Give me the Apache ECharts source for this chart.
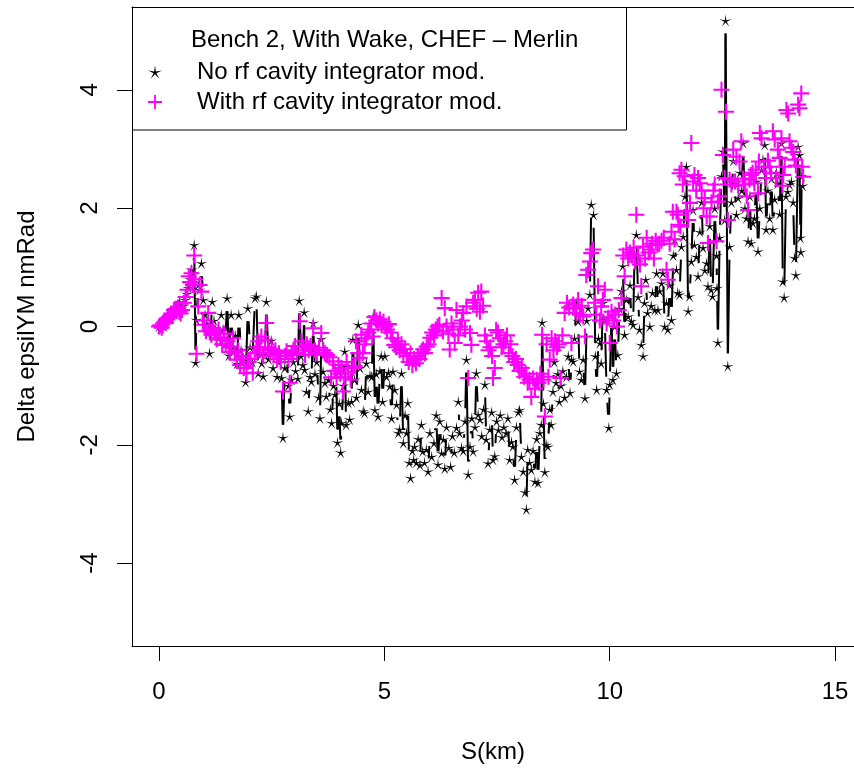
<!DOCTYPE html>
<html><head><meta charset="utf-8">
<script src="https://cdn.jsdelivr.net/npm/echarts@6/dist/echarts.min.js"></script>
<style>html,body{margin:0;padding:0;background:#fff;overflow:hidden}#c{width:854px;height:771px}</style>
</head><body><div id="c"></div>
<script>
// S (km), Delta epsilYM (nmRad) -- no rf cavity integrator mod. (black asterisks, type "b")
const blackPoints = [
[0.00,0.00],[0.04,-0.03],[0.08,0.02],[0.12,0.05],[0.16,0.08],[0.20,0.12],[0.24,0.15],[0.28,0.20],[0.32,0.24],[0.36,0.30],[0.40,0.33],[0.44,0.28],[0.46,0.41],[0.50,0.30],[0.54,0.35],[0.58,0.45],[0.62,0.55],[0.65,0.65],[0.69,0.80],[0.72,0.96],[0.76,0.90],[0.78,1.38],[0.81,-0.61],[0.83,0.11],[0.87,0.70],[0.90,0.62],[0.94,1.07],[0.98,0.45],
[1.02,0.20],[1.06,0.05],[1.09,-0.12],[1.12,-0.45],[1.18,0.42],[1.22,0.10],[1.27,-0.10],[1.32,-0.20],[1.38,0.20],[1.42,-0.05],[1.47,-0.30],[1.51,0.48],[1.55,-0.49],[1.60,0.20],[1.64,-0.35],[1.69,-0.15],[1.73,-0.63],[1.77,0.20],[1.82,-0.40],[1.86,-0.55],[1.92,-0.94],[1.97,0.31],
[2.02,-0.35],[2.07,-0.60],[2.13,0.48],[2.16,0.51],[2.20,-0.79],[2.24,-0.45],[2.28,-0.62],[2.31,-0.84],[2.35,-0.48],[2.38,0.42],[2.43,-0.55],[2.49,-0.24],[2.53,-0.70],[2.57,-0.42],[2.62,-0.85],[2.66,-0.60],[2.72,-0.87],[2.75,-1.88],[2.79,-0.70],[2.83,-0.42],[2.87,-1.00],[2.90,-1.52],[2.94,-0.90],[2.98,-0.60],
[3.03,-0.75],[3.08,-0.88],[3.11,0.44],[3.15,-0.50],[3.19,-0.65],[3.22,0.24],[3.23,-0.73],[3.27,-1.10],[3.31,-1.43],[3.35,-0.85],[3.38,-0.93],[3.42,0.06],[3.46,-0.80],[3.50,-0.60],[3.54,-1.20],[3.57,-1.55],[3.60,-0.21],[3.64,-0.76],[3.68,-0.95],[3.71,-1.18],[3.76,-0.90],[3.80,-1.40],[3.83,-1.63],[3.87,-1.00],[3.90,-1.15],[3.93,-0.80],[3.96,-1.96],
[4.00,-1.30],[4.03,-2.13],[4.05,-1.63],[4.09,-1.00],[4.12,-0.42],[4.15,-1.66],[4.20,-1.29],[4.23,-1.57],[4.27,-1.27],[4.30,-0.22],[4.34,-0.90],[4.38,-1.20],[4.42,0.03],[4.46,-0.70],[4.49,-1.07],[4.53,-1.43],[4.56,-1.46],[4.60,-0.62],[4.64,-1.10],[4.68,-0.83],[4.72,-0.85],[4.75,0.17],[4.79,-1.41],[4.82,-0.80],[4.86,-1.52],[4.90,-0.75],[4.93,-0.50],[4.96,-1.27],
[5.01,-0.50],[5.05,-0.85],[5.09,-0.78],[5.12,-1.01],[5.16,-1.55],[5.19,-0.76],[5.23,-1.07],[5.27,-1.32],[5.31,-1.80],[5.34,-1.74],[5.38,-0.79],[5.42,-1.97],[5.46,-1.50],[5.49,-1.80],[5.52,-1.29],[5.55,-2.30],[5.58,-2.56],[5.62,-2.10],[5.65,-2.25],[5.67,-2.03],[5.71,-2.30],[5.75,-1.90],[5.79,-2.34],[5.82,-1.66],[5.85,-2.11],[5.89,-2.30],[5.93,-2.08],[5.97,-2.45],
[6.01,-1.80],[6.05,-2.20],[6.10,-1.97],[6.15,-1.50],[6.19,-2.33],[6.23,-1.60],[6.27,-2.14],[6.31,-1.91],[6.34,-2.40],[6.38,-1.70],[6.43,-2.05],[6.47,-2.37],[6.51,-1.85],[6.55,-2.13],[6.60,-1.71],[6.64,-1.27],[6.67,-1.80],[6.71,-2.05],[6.75,-2.10],[6.79,-1.60],[6.82,-0.56],[6.86,-2.50],[6.90,-2.03],[6.94,-1.55],[6.97,-2.11],
[7.01,-1.70],[7.04,-0.79],[7.08,-1.49],[7.12,-1.57],[7.16,-1.85],[7.20,-1.40],[7.23,-0.98],[7.26,-1.91],[7.30,-2.31],[7.34,-1.74],[7.38,-1.45],[7.41,-2.25],[7.45,-2.19],[7.49,-1.60],[7.53,-1.75],[7.57,-1.50],[7.61,-1.87],[7.65,-1.70],[7.70,-1.80],[7.74,-1.55],[7.78,-2.25],[7.82,-1.95],[7.85,-2.03],[7.89,-2.59],[7.93,-1.70],[7.97,-1.45],
[8.00,-1.41],[8.04,-2.20],[8.08,-2.45],[8.12,-2.80],[8.15,-3.09],[8.18,-2.08],[8.22,-2.30],[8.26,-2.42],[8.30,-2.10],[8.34,-2.62],[8.38,-1.90],[8.41,-2.64],[8.45,-1.80],[8.48,-1.66],[8.50,0.07],[8.53,-1.30],[8.56,-2.46],[8.59,-2.00],[8.63,-2.03],[8.67,-1.40],[8.70,-1.66],[8.74,-1.10],[8.77,-0.60],[8.81,-0.95],[8.85,-0.80],[8.88,-1.27],[8.92,-1.00],[8.96,-0.75],
[9.00,-1.20],[9.04,-0.85],[9.08,-0.50],[9.12,-1.12],[9.15,-0.56],[9.19,-0.59],[9.22,-0.20],[9.26,0.40],[9.30,0.09],[9.33,-0.76],[9.37,-0.90],[9.41,-0.56],[9.45,-1.21],[9.49,0.10],[9.52,0.31],[9.56,0.54],[9.59,2.06],[9.64,1.89],[9.68,-0.50],[9.71,-1.07],[9.75,-0.20],[9.78,-0.28],[9.81,-0.62],[9.85,0.40],[9.89,0.11],[9.93,-1.07],[9.98,-1.71],
[10.00,-0.98],[10.04,0.20],[10.07,-0.90],[10.11,0.00],[10.15,-0.79],[10.18,-0.48],[10.22,0.30],[10.26,0.60],[10.29,1.02],[10.33,-0.14],[10.37,0.45],[10.41,0.17],[10.45,0.70],[10.48,0.09],[10.52,0.03],[10.55,1.20],[10.59,1.55],[10.63,0.50],[10.66,-0.05],[10.70,-0.31],[10.74,-0.50],[10.77,0.40],[10.80,0.79],[10.84,0.23],[10.89,0.00],[10.92,0.35],[10.95,0.57],
[11.00,0.28],[11.04,0.90],[11.07,0.28],[11.11,0.60],[11.15,0.73],[11.18,0.90],[11.22,0.00],[11.26,0.40],[11.29,-0.05],[11.33,0.70],[11.37,0.11],[11.41,1.20],[11.44,1.47],[11.48,0.96],[11.51,0.57],[11.55,0.54],[11.59,1.35],[11.63,1.52],[11.67,2.20],[11.70,2.70],[11.74,0.26],[11.77,0.51],[11.81,1.10],[11.85,1.97],[11.88,1.38],[11.92,1.18],[11.96,0.85],
[12.00,1.60],[12.04,2.10],[12.07,1.33],[12.11,0.95],[12.15,1.07],[12.18,0.68],[12.22,1.70],[12.25,0.62],[12.28,0.51],[12.33,2.00],[12.37,1.20],[12.38,0.65],[12.40,-0.27],[12.44,1.50],[12.48,2.54],[12.51,2.96],[12.55,1.80],[12.57,5.17],[12.62,-0.67],[12.66,1.35],[12.70,2.10],[12.74,2.80],[12.77,2.42],[12.81,1.89],[12.85,2.17],[12.89,2.60],[12.93,2.30],[12.96,3.10],
[13.00,2.00],[13.03,1.83],[13.07,1.44],[13.11,2.20],[13.14,1.41],[13.18,1.75],[13.21,1.83],[13.25,2.45],[13.29,1.27],[13.33,2.00],[13.37,2.65],[13.40,2.82],[13.44,3.07],[13.47,1.64],[13.51,2.30],[13.55,1.83],[13.59,2.50],[13.62,1.64],[13.66,2.15],[13.70,2.60],[13.73,2.42],[13.77,1.90],[13.81,3.10],[13.84,0.76],[13.87,0.49],[13.91,2.20],[13.95,2.28],[13.99,2.40],
[14.03,2.45],[14.07,2.10],[14.10,1.16],[14.13,0.87],[14.18,3.04],[14.21,2.90],[14.23,1.50],[14.24,1.26],[14.26,2.54],[14.28,2.38]
];
// S (km), Delta epsilYM (nmRad) -- with rf cavity integrator mod. (magenta plus)
const magentaPoints = [
[0.00,0.00],[0.03,0.02],[0.06,-0.02],[0.09,0.05],[0.12,0.08],[0.15,0.06],[0.18,0.12],[0.21,0.15],[0.24,0.18],[0.27,0.22],[0.30,0.20],[0.33,0.28],[0.36,0.30],[0.39,0.26],[0.42,0.32],[0.45,0.25],[0.48,0.22],[0.51,0.28],[0.55,0.40],[0.59,0.50],[0.63,0.62],[0.66,0.85],[0.69,0.75],[0.72,0.90],[0.75,0.70],[0.78,1.20],[0.80,0.80],[0.83,-0.46],[0.87,0.34],[0.90,0.70],[0.94,0.59],[0.97,0.10],
[1.00,0.03],[1.04,-0.08],[1.09,0.23],[1.12,-0.05],[1.16,-0.14],[1.20,-0.02],[1.24,-0.10],[1.28,-0.22],[1.32,-0.05],[1.36,-0.19],[1.40,-0.30],[1.44,-0.12],[1.48,-0.31],[1.52,-0.25],[1.56,-0.43],[1.60,-0.35],[1.64,-0.20],[1.68,-0.45],[1.72,-0.56],[1.76,-0.40],[1.80,-0.65],[1.84,-0.50],[1.88,-0.70],[1.94,-0.79],[1.98,-0.60],
[2.03,-0.55],[2.08,-0.78],[2.12,-0.45],[2.16,-0.35],[2.20,-0.25],[2.24,-0.40],[2.27,-0.17],[2.31,-0.50],[2.35,-0.22],[2.38,0.06],[2.42,-0.35],[2.46,-0.45],[2.50,-0.38],[2.54,-0.48],[2.58,-0.40],[2.62,-0.55],[2.66,-0.45],[2.70,-0.60],[2.75,-1.10],[2.79,-0.50],[2.83,-0.42],[2.87,-0.55],[2.90,-0.95],[2.94,-0.48],[2.98,-0.40],
[3.02,-0.33],[3.06,-0.45],[3.12,0.09],[3.16,-0.25],[3.20,-0.35],[3.24,-0.48],[3.28,-0.30],[3.32,-0.40],[3.36,-0.33],[3.42,-0.03],[3.46,-0.40],[3.50,-0.45],[3.55,-0.36],[3.60,-0.11],[3.64,-0.40],[3.68,-0.45],[3.73,-0.48],[3.78,-0.52],[3.82,-0.86],[3.86,-0.59],[3.90,-0.75],[3.94,-0.86],[3.98,-0.65],
[4.02,-0.80],[4.05,-0.70],[4.08,-1.10],[4.12,-0.86],[4.16,-0.60],[4.20,-0.76],[4.25,-0.90],[4.30,-0.70],[4.34,-0.67],[4.37,-0.25],[4.42,-0.45],[4.45,-0.53],[4.49,-0.14],[4.52,-0.45],[4.56,-0.30],[4.60,-0.20],[4.64,-0.10],[4.67,-0.05],[4.71,0.05],[4.74,-0.17],[4.78,0.16],[4.82,0.10],[4.86,0.05],[4.90,0.12],[4.94,0.02],[4.98,0.08],
[5.02,0.00],[5.06,-0.05],[5.10,0.04],[5.14,-0.10],[5.18,-0.20],[5.22,-0.31],[5.26,-0.35],[5.30,-0.25],[5.34,-0.40],[5.38,-0.30],[5.42,-0.45],[5.46,-0.38],[5.50,-0.50],[5.54,-0.60],[5.58,-0.45],[5.62,-0.65],[5.66,-0.55],[5.70,-0.62],[5.74,-0.50],[5.78,-0.55],[5.82,-0.45],[5.86,-0.39],[5.90,-0.45],[5.94,-0.34],[5.98,-0.30],
[6.02,-0.19],[6.06,-0.10],[6.10,-0.15],[6.14,-0.05],[6.18,0.00],[6.22,0.03],[6.27,0.48],[6.30,-0.08],[6.34,0.31],[6.38,0.00],[6.42,-0.12],[6.45,-0.39],[6.49,0.05],[6.53,-0.05],[6.56,-0.28],[6.60,0.28],[6.64,-0.15],[6.68,0.00],[6.72,0.10],[6.75,0.23],[6.79,-0.05],[6.82,0.34],[6.86,-0.87],[6.90,-0.11],[6.93,-0.31],[6.97,0.40],
[7.01,0.45],[7.05,0.30],[7.08,0.57],[7.12,0.25],[7.15,0.59],[7.19,0.35],[7.23,-0.15],[7.27,-0.25],[7.31,-0.40],[7.35,-0.35],[7.39,-0.50],[7.41,-0.87],[7.45,-0.70],[7.48,-0.06],[7.52,-0.10],[7.56,-0.20],[7.60,-0.35],[7.64,-0.30],[7.68,-0.25],[7.72,-0.15],[7.76,-0.45],[7.80,-0.30],[7.84,-0.50],[7.88,-0.60],[7.92,-0.55],[7.96,-0.65],
[8.00,-0.75],[8.05,-0.70],[8.10,-0.85],[8.14,-0.80],[8.18,-0.95],[8.22,-0.90],[8.26,-1.19],[8.30,-0.88],[8.34,-1.05],[8.38,-0.90],[8.42,-0.95],[8.46,-0.80],[8.50,-0.14],[8.53,-0.90],[8.56,-1.52],[8.60,-0.30],[8.64,-0.85],[8.67,-0.56],[8.71,-0.20],[8.75,-0.40],[8.79,-0.25],[8.83,-0.35],[8.87,-0.30],[8.91,-0.87],[8.95,-0.15],
[9.00,0.23],[9.05,0.40],[9.10,0.32],[9.15,-0.28],[9.19,0.37],[9.23,0.30],[9.26,0.23],[9.30,0.45],[9.34,0.20],[9.38,0.35],[9.41,0.17],[9.45,-0.17],[9.48,0.87],[9.52,0.96],[9.56,1.10],[9.59,1.24],[9.63,1.30],[9.67,0.40],[9.70,0.20],[9.74,0.68],[9.78,0.10],[9.81,0.34],[9.85,0.45],[9.89,0.62],[9.93,0.05],[9.97,0.15],
[10.00,-0.28],[10.04,0.25],[10.08,0.10],[10.12,0.20],[10.16,0.00],[10.20,0.28],[10.26,0.48],[10.30,1.20],[10.33,0.85],[10.37,1.30],[10.41,1.15],[10.45,1.25],[10.49,1.20],[10.53,1.33],[10.56,1.10],[10.59,1.89],[10.63,1.20],[10.67,1.05],[10.70,0.68],[10.74,1.35],[10.78,1.15],[10.82,1.50],[10.86,1.25],[10.90,1.30],[10.94,1.40],[10.98,1.15],
[11.02,1.45],[11.06,1.38],[11.10,1.40],[11.15,1.45],[11.20,1.50],[11.26,0.96],[11.29,0.79],[11.33,1.40],[11.37,1.60],[11.40,1.94],[11.44,1.47],[11.48,1.94],[11.51,1.89],[11.53,1.72],[11.55,2.59],[11.57,1.69],[11.59,2.65],[11.62,2.40],[11.66,2.54],[11.70,1.95],[11.74,1.80],[11.78,2.09],[11.81,3.10],[11.85,2.45],[11.88,2.56],[11.92,2.30],[11.96,2.51],
[12.00,2.42],[12.04,2.30],[12.08,2.00],[12.11,2.17],[12.15,1.86],[12.18,1.41],[12.22,1.86],[12.26,2.10],[12.30,2.30],[12.33,2.40],[12.37,1.44],[12.40,2.11],[12.44,2.20],[12.48,4.00],[12.51,2.90],[12.55,2.51],[12.58,3.63],[12.62,1.80],[12.66,2.48],[12.70,2.40],[12.74,2.99],[12.78,2.45],[12.81,2.87],[12.85,2.38],[12.88,2.79],[12.92,3.13],[12.96,2.50],
[13.00,2.40],[13.04,2.20],[13.07,1.97],[13.10,2.48],[13.13,2.56],[13.17,2.60],[13.21,2.42],[13.24,2.65],[13.29,2.25],[13.31,2.79],[13.33,3.27],[13.37,3.18],[13.42,2.70],[13.47,2.51],[13.51,2.80],[13.55,2.70],[13.58,2.59],[13.62,3.30],[13.66,3.16],[13.69,2.51],[13.73,2.99],[13.77,2.85],[13.81,3.18],[13.83,2.38],[13.85,2.56],[13.88,2.70],[13.92,3.66],[13.96,3.60],[13.99,3.13],
[14.03,3.02],[14.07,2.95],[14.10,2.82],[14.13,2.72],[14.18,3.75],[14.21,3.69],[14.25,3.94],[14.27,2.70],[14.29,2.53]
];
const xTicks = [0, 5, 10, 15];
const yTicks = [-4, -2, 0, 2, 4];
const legendTitle = 'Bench 2, With Wake, CHEF \u2013 Merlin';
const seriesNames = ['No rf cavity integrator mod.', 'With rf cavity integrator mod.'];

const FONT = '"Liberation Sans", Arial, Helvetica, sans-serif';
const STAR = 'path://M0,-1L0.118,-0.162L0.951,-0.309L0.19,0.062L0.588,0.809L0,0.2L-0.588,0.809L-0.19,0.062L-0.951,-0.309L-0.118,-0.162Z';
const PLUS = 'path://M-0.13,-1L0.13,-1L0.13,-0.13L1,-0.13L1,0.13L0.13,0.13L0.13,1L-0.13,1L-0.13,0.13L-1,0.13L-1,-0.13L-0.13,-0.13Z';
const GAP = 13; // R type="b": line segments stop short of the points
const X_MIN = -0.6, X_MAX = 15.42; // the plot box is cut by the right edge of the picture

const segments = [];
for (let i = 0; i < blackPoints.length - 1; i++) {
  segments.push([blackPoints[i][0], blackPoints[i][1], blackPoints[i + 1][0], blackPoints[i + 1][1]]);
}

const chart = echarts.init(document.getElementById('c'), null, {renderer: 'canvas'});
chart.setOption({
  animation: false,
  backgroundColor: '#fff',
  textStyle: {fontFamily: FONT},
  title: {
    text: legendTitle, left: 191, top: 28, padding: 0,
    textStyle: {fontSize: 24, fontWeight: 'normal', color: '#000', fontFamily: FONT, lineHeight: 24}
  },
  legend: {
    orient: 'vertical', left: 148, top: 60, padding: 0,
    itemWidth: 14, itemHeight: 14, itemGap: 6, selectedMode: false,
    data: [
      {name: seriesNames[0], icon: STAR, itemStyle: {color: '#000'}},
      {name: seriesNames[1], icon: PLUS, itemStyle: {color: '#ff00ff'}}
    ],
    textStyle: {fontSize: 24, color: '#000', fontFamily: FONT, lineHeight: 24, padding: [0, 0, 0, 30]}
  },
  graphic: [{
    type: 'rect', z: 10,
    shape: {x: 132.5, y: 7.5, width: 494, height: 122.5},
    style: {fill: 'rgba(0,0,0,0)', stroke: '#000', lineWidth: 1}
  }],
  grid: {left: 132, right: 0, top: 7, bottom: 125, show: false},
  xAxis: [{
    type: 'value', min: X_MIN, max: X_MAX, position: 'bottom',
    axisLine: {show: true, onZero: false, lineStyle: {color: '#000', width: 1}},
    axisTick: {show: true, customValues: xTicks, length: 15, lineStyle: {color: '#000', width: 1}},
    axisLabel: {customValues: xTicks, fontSize: 24, color: '#000', margin: 34, fontFamily: FONT},
    splitLine: {show: false},
    name: 'S(km)', nameLocation: 'middle', nameGap: 94,
    nameTextStyle: {fontSize: 24, color: '#000', fontFamily: FONT}
  }, {
    type: 'value', min: X_MIN, max: X_MAX, position: 'top',
    axisLine: {show: true, onZero: false, lineStyle: {color: '#000', width: 1}},
    axisTick: {show: false}, axisLabel: {show: false}, splitLine: {show: false}
  }],
  yAxis: {
    type: 'value', min: -5.4, max: 5.4,
    axisLine: {show: true, onZero: false, lineStyle: {color: '#000', width: 1}},
    axisTick: {show: true, customValues: yTicks, length: 15, lineStyle: {color: '#000', width: 1}},
    axisLabel: {customValues: yTicks, rotate: 90, fontSize: 24, color: '#000', margin: 30, fontFamily: FONT},
    splitLine: {show: false},
    name: 'Delta epsilYM nmRad', nameLocation: 'middle', nameRotate: 90, nameGap: 93,
    nameTextStyle: {fontSize: 24, color: '#000', fontFamily: FONT}
  },
  series: [
    {
      type: 'custom', name: 'line', silent: true, z: 1, clip: true,
      data: segments, encode: {x: [0, 2], y: [1, 3]},
      renderItem: function (params, api) {
        const p1 = api.coord([api.value(0), api.value(1)]);
        const p2 = api.coord([api.value(2), api.value(3)]);
        const dx = p2[0] - p1[0], dy = p2[1] - p1[1];
        const L = Math.sqrt(dx * dx + dy * dy);
        if (L <= 2 * GAP) return null;
        const ux = dx / L, uy = dy / L;
        return {
          type: 'line',
          shape: {x1: p1[0] + ux * GAP, y1: p1[1] + uy * GAP, x2: p2[0] - ux * GAP, y2: p2[1] - uy * GAP},
          style: {stroke: '#000', lineWidth: 2}
        };
      }
    },
    {
      type: 'scatter', name: seriesNames[0], z: 2,
      data: blackPoints, symbol: STAR, symbolSize: 12,
      itemStyle: {color: '#000', opacity: 1}
    },
    {
      type: 'scatter', name: seriesNames[1], z: 3,
      data: magentaPoints, symbol: PLUS, symbolSize: 16,
      itemStyle: {color: '#ff00ff', opacity: 1}
    }
  ]
});
</script>
</body></html>
